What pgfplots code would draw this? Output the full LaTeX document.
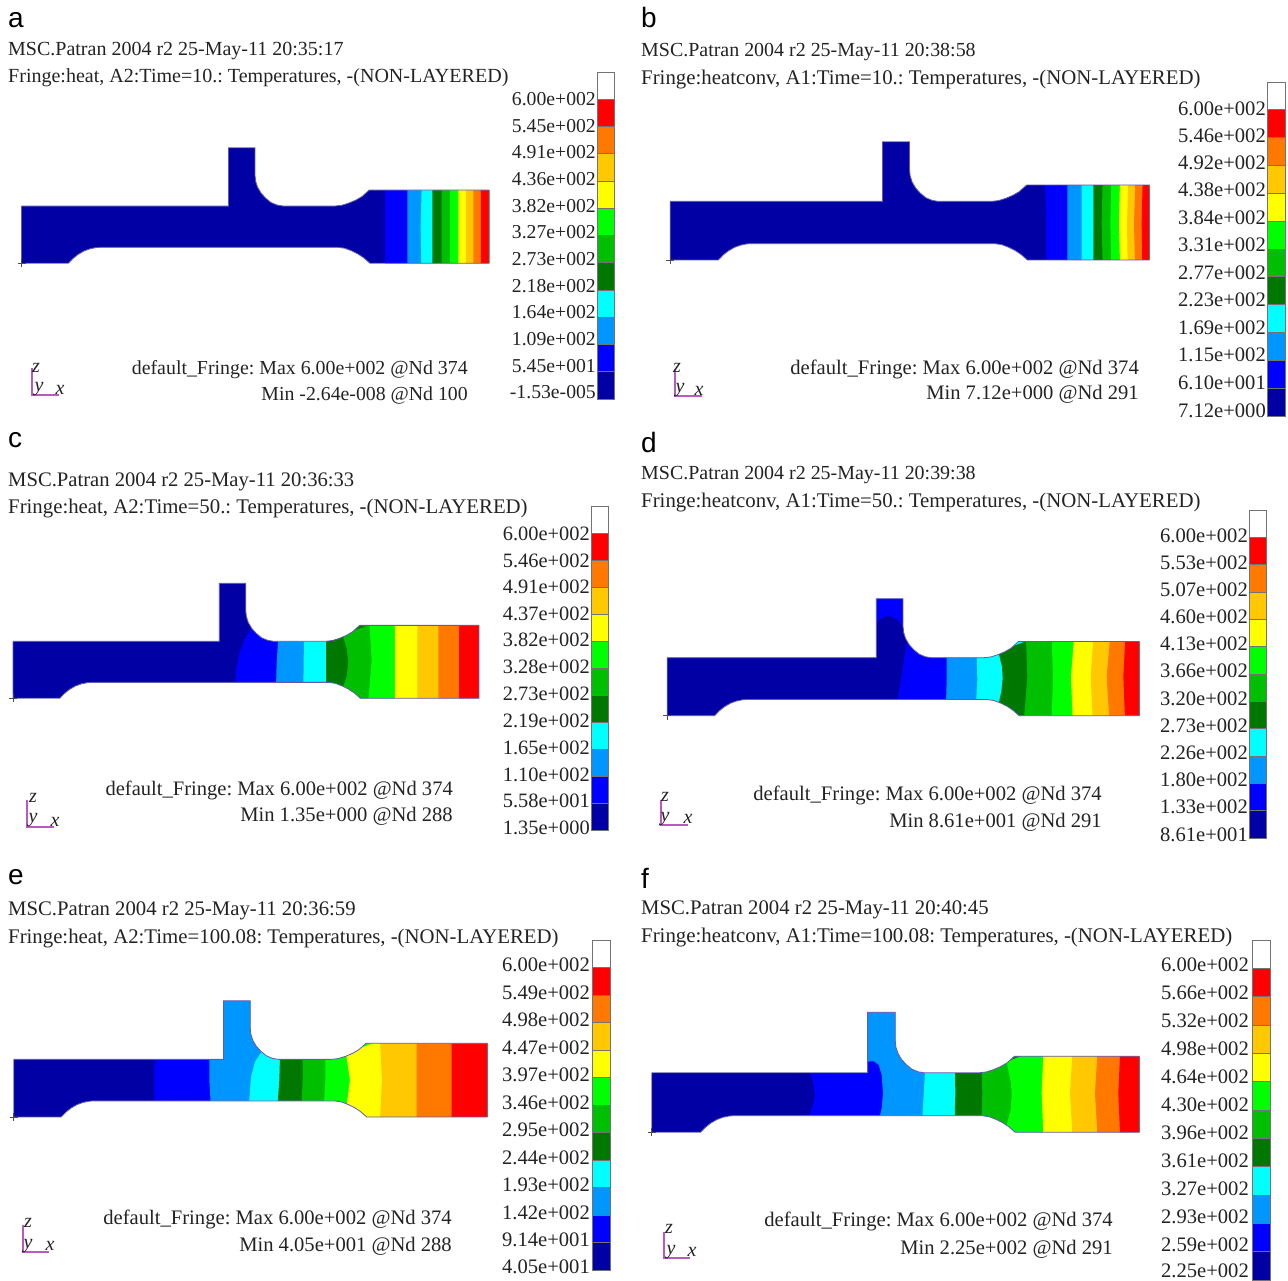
\documentclass[border=0pt]{standalone}
\usepackage{fontspec}
\setmainfont{Liberation Serif}
\newfontfamily\lsans{Liberation Sans}
\usepackage{pgfplots}
\pgfplotsset{compat=1.18}
\definecolor{cDB}{RGB}{0,0,165}
\definecolor{cB}{RGB}{0,0,255}
\definecolor{cLB}{RGB}{0,150,255}
\definecolor{cC}{RGB}{0,255,255}
\definecolor{cDG}{RGB}{0,120,0}
\definecolor{cMG}{RGB}{0,190,0}
\definecolor{cG}{RGB}{0,255,0}
\definecolor{cY}{RGB}{255,255,0}
\definecolor{cYO}{RGB}{255,200,0}
\definecolor{cO}{RGB}{255,120,0}
\definecolor{cR}{RGB}{255,0,0}
\definecolor{tx}{RGB}{35,35,35}
\definecolor{edgec}{RGB}{95,90,175}
\definecolor{triadc}{RGB}{185,90,195}
\pgfplotsset{
  zf/.style n args={2}{x filter/.expression={#1+x/3},y filter/.expression={#2+y/3}},
  sf/.style n args={4}{x filter/.expression={#1+(x-21.5)/467.5*(#2-#1)},y filter/.expression={#4+(y-263.3)/115.6*(#4-#3)}},
  cb/.style n args={4}{x filter/.expression={#1+x*(#2-#1)},y filter/.expression={#3+y*(#4-#3)/12}},
  tf/.style n args={2}{x filter/.expression={#1+x},y filter/.expression={#2+y}},
}
% outside of the part, in the part's own units, then its outline
\newcommand\shape[4]{%
 \addplot[fill=white,draw=none,sf={#1}{#2}{#3}{#4}] coordinates {(17.5,142)(493,142)(493,190)(369.3,190)(362,196.5)(356,200)(349,203)(342,205.2)(335,206)(283,206)(277,205)(271,202.5)(265.5,198)(261,193)(257.5,187)(255.6,181)(255,175)(255,147.7)(228.5,147.7)(228.5,206)(17.5,206)};
 \addplot[fill=white,draw=none,sf={#1}{#2}{#3}{#4}] coordinates {(17.5,269)(17.5,263.3)(68.3,263.3)(73,258.5)(78,254.5)(84,251)(90,248.8)(96,247.6)(100,247.3)(338,247.3)(345,248.3)(352,251)(358,254)(364,258)(370,263.3)(493,263.3)(493,269)};
 \addplot[draw=edgec,line width=0.8pt,sf={#1}{#2}{#3}{#4}] coordinates {(21.5,206)(228.5,206)(228.5,147.7)(255,147.7)(255,175)(255.6,181)(257.5,187)(261,193)(265.5,198)(271,202.5)(277,205)(283,206)(335,206)(342,205.2)(349,203)(356,200)(362,196.5)(369.3,190)(489,190)(489,263.3)(370,263.3)(364,258)(358,254)(352,251)(345,248.3)(338,247.3)(100,247.3)(96,247.6)(90,248.8)(84,251)(78,254.5)(73,258.5)(68.3,263.3)(21.5,263.3)(21.5,206)};
 \addplot[only marks,mark=+,mark size=4pt,mark options={draw=black!70,line width=0.6pt}] coordinates {(#1,#4)};
}
\newcommand\cbar[4]{%
 \addplot[fill=white,draw=black!55,line width=0.8pt,cb={#1}{#2}{#3}{#4}] coordinates {(0,0)(1,0)(1,1)(0,1)(0,0)};
 \addplot[fill=cR,draw=black!55,line width=0.8pt,cb={#1}{#2}{#3}{#4}] coordinates {(0,1)(1,1)(1,2)(0,2)(0,1)};
 \addplot[fill=cO,draw=black!55,line width=0.8pt,cb={#1}{#2}{#3}{#4}] coordinates {(0,2)(1,2)(1,3)(0,3)(0,2)};
 \addplot[fill=cYO,draw=black!55,line width=0.8pt,cb={#1}{#2}{#3}{#4}] coordinates {(0,3)(1,3)(1,4)(0,4)(0,3)};
 \addplot[fill=cY,draw=black!55,line width=0.8pt,cb={#1}{#2}{#3}{#4}] coordinates {(0,4)(1,4)(1,5)(0,5)(0,4)};
 \addplot[fill=cG,draw=black!55,line width=0.8pt,cb={#1}{#2}{#3}{#4}] coordinates {(0,5)(1,5)(1,6)(0,6)(0,5)};
 \addplot[fill=cMG,draw=black!55,line width=0.8pt,cb={#1}{#2}{#3}{#4}] coordinates {(0,6)(1,6)(1,7)(0,7)(0,6)};
 \addplot[fill=cDG,draw=black!55,line width=0.8pt,cb={#1}{#2}{#3}{#4}] coordinates {(0,7)(1,7)(1,8)(0,8)(0,7)};
 \addplot[fill=cC,draw=black!55,line width=0.8pt,cb={#1}{#2}{#3}{#4}] coordinates {(0,8)(1,8)(1,9)(0,9)(0,8)};
 \addplot[fill=cLB,draw=black!55,line width=0.8pt,cb={#1}{#2}{#3}{#4}] coordinates {(0,9)(1,9)(1,10)(0,10)(0,9)};
 \addplot[fill=cB,draw=black!55,line width=0.8pt,cb={#1}{#2}{#3}{#4}] coordinates {(0,10)(1,10)(1,11)(0,11)(0,10)};
 \addplot[fill=cDB,draw=black!55,line width=0.8pt,cb={#1}{#2}{#3}{#4}] coordinates {(0,11)(1,11)(1,12)(0,12)(0,11)};
}
\newcommand\tr[4]{\addplot[draw=triadc,line width=1.1pt,tf={#1}{#2}] coordinates {(0,-#3)(0,0)(#4,0)};}
\newcommand\fs[1]{\fontsize{#1pt}{#1pt}\selectfont\frenchspacing}
\newcommand\te[4]{\node[anchor=base east,inner sep=0pt,yshift=-0.5pt,text=tx,font=\fs{#1}] at (axis cs:#2,#3) {#4};}
\newcommand\tw[4]{\node[anchor=base west,inner sep=0pt,yshift=-0.5pt,text=tx,font=\fs{#1}] at (axis cs:#2,#3) {#4};}
\newcommand\ti[3]{\node[anchor=base,inner sep=0pt,text=tx,font=\fs{20}\itshape] at (axis cs:#1,#2) {#3};}
\newcommand\pl[3]{\node[anchor=base west,inner sep=0pt,text=black,font=\lsans\fs{28}] at (axis cs:#1,#2) {#3};}
% bands: each is filled from its left boundary to the right end of the part
\newcommand\bA[2]{\addplot[fill=#1,draw=none,zf={0}{130}] coordinates {#2 (1467,400)(1467,53)};}
\newcommand\bB[2]{\addplot[fill=#1,draw=none,zf={650}{130}] coordinates {#2 (1498,390)(1498,35)};}
\newcommand\bC[2]{\addplot[fill=#1,draw=none,zf={0}{570}] coordinates {#2 (1437,385)(1437,40)};}
\newcommand\bD[2]{\addplot[fill=#1,draw=none,zf={650}{590}] coordinates {#2 (1468,377)(1468,26)};}
\newcommand\bE[2]{\addplot[fill=#1,draw=none,zf={0}{990}] coordinates {#2 (1462,381)(1462,32)};}
\newcommand\bF[2]{\addplot[fill=#1,draw=none,zf={640}{1000}] coordinates {#2 (1498,397)(1498,37)};}
\begin{document}
\begin{tikzpicture}
\useasboundingbox (0,0) rectangle (1288pt,1280pt);
\begin{axis}[at={(0,0)},anchor=south west,scale only axis,width=1288pt,height=1280pt,
  xmin=0,xmax=1288,ymin=0,ymax=1280,y dir=reverse,axis lines=none,ticks=none]
%---- a
\bA{cDB}{(64,53)(64,400)}
\bA{cB}{(1155,170)(1155,410)}
\bA{cLB}{(1222,170)(1222,410)}
\bA{cC}{(1265,170)(1262,290)(1264,410)}
\bA{cDG}{(1297,170)(1297,410)}
\bA{cMG}{(1325,170)(1325,410)}
\bA{cG}{(1350,170)(1350,410)}
\bA{cY}{(1375,170)(1375,410)}
\bA{cYO}{(1398,170)(1398,410)}
\bA{cO}{(1420,170)(1420,410)}
\bA{cR}{(1443,170)(1443,410)}
\shape{21.5}{489}{147.7}{263.3}
%---- b
\bB{cDB}{(61,35)(61,390)}
\bB{cB}{(1185,150)(1188,280)(1188,400)}
\bB{cLB}{(1252,150)(1252,400)}
\bB{cC}{(1295,150)(1295,400)}
\bB{cDG}{(1330,150)(1330,400)}
\bB{cMG}{(1358,150)(1355,280)(1358,400)}
\bB{cG}{(1384,150)(1381,280)(1384,400)}
\bB{cY}{(1410,150)(1407,280)(1410,400)}
\bB{cYO}{(1435,150)(1431,280)(1433,400)}
\bB{cO}{(1456,150)(1452,280)(1455,400)}
\bB{cR}{(1478,150)(1475,280)(1477,400)}
\shape{670.3}{1149.3}{141.7}{260}
%---- c
\bC{cDB}{(39,40)(39,385)}
\bC{cB}{(760,165)(735,205)(718,250)(708,300)(705,350)(705,395)}
\bC{cLB}{(835,195)(830,280)(828,350)(828,395)}
\bC{cC}{(912,195)(910,350)(910,395)}
\bC{cDG}{(978,195)(978,395)}
\bC{cMG}{(1028,195)(1040,235)(1045,275)(1040,320)(1028,355)(1028,395)}
\bC{cG}{(1108,155)(1115,270)(1105,395)}
\bC{cY}{(1185,155)(1185,395)}
\bC{cYO}{(1252,155)(1252,395)}
\bC{cO}{(1315,155)(1315,395)}
\bC{cR}{(1377,155)(1377,395)}
\shape{13}{479}{583.3}{698.3}
%---- d
\bD{cDB}{(52,26)(52,377)}
\bD{cB}{(770,160)(760,220)(750,290)(740,340)(740,385)}
\addplot[fill=cB,draw=none,zf={650}{590}] coordinates {(680,20)(765,20)(765,132)(755,105)(742,88)(722,78)(705,80)(690,88)(680,100)};
\bD{cLB}{(890,195)(890,270)(888,340)(888,385)}
\bD{cC}{(980,195)(982,270)(978,340)(978,385)}
\bD{cDG}{(1045,185)(1056,230)(1058,265)(1054,305)(1045,345)(1045,385)}
\bD{cMG}{(1128,145)(1132,260)(1122,385)}
\bD{cG}{(1205,145)(1209,260)(1205,385)}
\bD{cY}{(1272,145)(1263,260)(1268,385)}
\bD{cYO}{(1330,145)(1322,260)(1328,385)}
\bD{cO}{(1380,145)(1370,260)(1378,385)}
\bD{cR}{(1426,145)(1420,260)(1425,385)}
\shape{667.3}{1139.3}{598.7}{715.7}
%---- e
\bE{cDB}{(41,32)(41,381)}
\bE{cB}{(463,195)(463,390)}
\bE{cLB}{(628,32)(628,270)(632,340)(632,390)}
\bE{cC}{(785,185)(765,215)(753,260)(747,340)(747,390)}
\bE{cDG}{(840,200)(838,270)(833,340)(833,390)}
\bE{cMG}{(908,200)(908,270)(905,340)(905,390)}
\bE{cG}{(976,200)(976,270)(972,340)(972,390)}
\bE{cY}{(1038,190)(1050,270)(1040,345)(1040,390)}
\bE{cYO}{(1140,150)(1146,270)(1140,390)}
\bE{cO}{(1250,150)(1250,390)}
\bE{cR}{(1355,150)(1355,390)}
\shape{13.7}{487.3}{1000.7}{1117}
%---- f
\bF{cDB}{(35,37)(35,397)}
\bF{cB}{(508,210)(520,250)(525,285)(518,320)(503,355)(503,405)}
\bF{cLB}{(684,37)(684,185)(700,183)(716,194)(725,225)(729,280)(725,325)(718,355)(718,405)}
\bF{cC}{(855,215)(850,300)(847,355)(847,405)}
\bF{cDG}{(945,215)(946,280)(944,355)(944,405)}
\bF{cMG}{(1025,215)(1027,280)(1025,355)(1025,405)}
\bF{cG}{(1100,185)(1113,250)(1115,285)(1112,330)(1100,375)(1100,405)}
\bF{cY}{(1210,165)(1205,280)(1210,400)}
\bF{cYO}{(1297,165)(1290,280)(1297,400)}
\bF{cO}{(1372,165)(1365,280)(1372,400)}
\bF{cR}{(1440,165)(1435,280)(1440,400)}
\shape{651.7}{1139.3}{1012.3}{1132.3}
%---- colour bars
\cbar{597}{614}{72}{399}
\cbar{1267}{1285}{82}{416}
\cbar{591}{608}{506}{830}
\cbar{1249}{1266}{510}{838}
\cbar{592}{610}{940}{1270}
\cbar{1252}{1270}{940}{1280}
%---- triads
\tr{32}{395}{27}{27}
\tr{675}{396}{26}{27}
\tr{27}{827}{27}{27}
\tr{661}{825}{25}{27}
\tr{23}{1252}{27}{26}
\tr{664}{1258}{26}{26}
\ti{36}{372}{z}\ti{39}{391}{y}\ti{60}{394}{x}
\ti{677}{372}{z}\ti{680}{392}{y}\ti{699}{395}{x}
\ti{33}{802}{z}\ti{33}{822}{y}\ti{55}{826}{x}
\ti{665}{801}{z}\ti{665}{821}{y}\ti{688}{823}{x}
\ti{28}{1227}{z}\ti{28}{1248}{y}\ti{50}{1250}{x}
\ti{669}{1233}{z}\ti{671}{1254}{y}\ti{692}{1256}{x}
%---- panel letters
\pl{8}{27}{a}\pl{641}{27}{b}\pl{8}{447}{c}\pl{641}{452}{d}\pl{8}{884}{e}\pl{641}{888}{f}
%---- headers
\tw{20.0}{8}{55}{MSC.Patran 2004 r2 25-May-11 20:35:17}
\tw{20.03}{8}{82}{Fringe:heat, A2:Time=10.: Temperatures, -(NON-LAYERED)}
\tw{19.95}{641}{56}{MSC.Patran 2004 r2 25-May-11 20:38:58}
\tw{20.83}{641}{84}{Fringe:heatconv, A1:Time=10.: Temperatures, -(NON-LAYERED)}
\tw{20.64}{8}{486}{MSC.Patran 2004 r2 25-May-11 20:36:33}
\tw{20.8}{8}{513}{Fringe:heat, A2:Time=50.: Temperatures, -(NON-LAYERED)}
\tw{19.95}{641}{479}{MSC.Patran 2004 r2 25-May-11 20:39:38}
\tw{20.83}{641}{507}{Fringe:heatconv, A1:Time=50.: Temperatures, -(NON-LAYERED)}
\tw{20.72}{8}{915}{MSC.Patran 2004 r2 25-May-11 20:36:59}
\tw{20.79}{8}{943}{Fringe:heat, A2:Time=100.08: Temperatures, -(NON-LAYERED)}
\tw{20.72}{641}{914}{MSC.Patran 2004 r2 25-May-11 20:40:45}
\tw{20.85}{641}{942}{Fringe:heatconv, A1:Time=100.08: Temperatures, -(NON-LAYERED)}
%---- fringe notes
\te{19.88}{468}{374}{default\_Fringe: Max 6.00e+002 @Nd 374}
\te{19.8}{468}{400}{Min -2.64e-008 @Nd 100}
\te{20.62}{1139}{374}{default\_Fringe: Max 6.00e+002 @Nd 374}
\te{20.6}{1139}{399}{Min 7.12e+000 @Nd 291}
\te{20.55}{453}{795}{default\_Fringe: Max 6.00e+002 @Nd 374}
\te{20.6}{453}{821}{Min 1.35e+000 @Nd 288}
\te{20.62}{1102}{800}{default\_Fringe: Max 6.00e+002 @Nd 374}
\te{20.6}{1102}{827}{Min 8.61e+001 @Nd 291}
\te{20.62}{452}{1224}{default\_Fringe: Max 6.00e+002 @Nd 374}
\te{20.6}{452}{1251}{Min 4.05e+001 @Nd 288}
\te{20.62}{1113}{1226}{default\_Fringe: Max 6.00e+002 @Nd 374}
\te{20.6}{1113}{1254}{Min 2.25e+002 @Nd 291}
%---- a scale
\te{19.7}{596}{105}{6.00e+002}\te{19.7}{596}{132}{5.45e+002}\te{19.7}{596}{158}{4.91e+002}\te{19.7}{596}{185}{4.36e+002}
\te{19.7}{596}{212}{3.82e+002}\te{19.7}{596}{238}{3.27e+002}\te{19.7}{596}{265}{2.73e+002}\te{19.7}{596}{292}{2.18e+002}
\te{19.7}{596}{318}{1.64e+002}\te{19.7}{596}{345}{1.09e+002}\te{19.7}{596}{372}{5.45e+001}\te{19.7}{596}{398}{-1.53e-005}
%---- b scale
\te{20.6}{1266}{115}{6.00e+002}\te{20.6}{1266}{142}{5.46e+002}\te{20.6}{1266}{169}{4.92e+002}\te{20.6}{1266}{196}{4.38e+002}
\te{20.6}{1266}{224}{3.84e+002}\te{20.6}{1266}{251}{3.31e+002}\te{20.6}{1266}{279}{2.77e+002}\te{20.6}{1266}{306}{2.23e+002}
\te{20.6}{1266}{334}{1.69e+002}\te{20.6}{1266}{361}{1.15e+002}\te{20.6}{1266}{389}{6.10e+001}\te{20.6}{1266}{417}{7.12e+000}
%---- c scale
\te{20.4}{590}{540}{6.00e+002}\te{20.4}{590}{567}{5.46e+002}\te{20.4}{590}{593}{4.91e+002}\te{20.4}{590}{620}{4.37e+002}
\te{20.4}{590}{646}{3.82e+002}\te{20.4}{590}{673}{3.28e+002}\te{20.4}{590}{700}{2.73e+002}\te{20.4}{590}{727}{2.19e+002}
\te{20.4}{590}{754}{1.65e+002}\te{20.4}{590}{781}{1.10e+002}\te{20.4}{590}{807}{5.58e+001}\te{20.4}{590}{834}{1.35e+000}
%---- d scale
\te{20.6}{1248}{542}{6.00e+002}\te{20.6}{1248}{569}{5.53e+002}\te{20.6}{1248}{596}{5.07e+002}\te{20.6}{1248}{623}{4.60e+002}
\te{20.6}{1248}{650}{4.13e+002}\te{20.6}{1248}{677}{3.66e+002}\te{20.6}{1248}{705}{3.20e+002}\te{20.6}{1248}{732}{2.73e+002}
\te{20.6}{1248}{759}{2.26e+002}\te{20.6}{1248}{786}{1.80e+002}\te{20.6}{1248}{813}{1.33e+002}\te{20.6}{1248}{841}{8.61e+001}
%---- e scale
\te{20.6}{590}{971}{6.00e+002}\te{20.6}{590}{999}{5.49e+002}\te{20.6}{590}{1026}{4.98e+002}\te{20.6}{590}{1054}{4.47e+002}
\te{20.6}{590}{1081}{3.97e+002}\te{20.6}{590}{1109}{3.46e+002}\te{20.6}{590}{1136}{2.95e+002}\te{20.6}{590}{1164}{2.44e+002}
\te{20.6}{590}{1191}{1.93e+002}\te{20.6}{590}{1219}{1.42e+002}\te{20.6}{590}{1246}{9.14e+001}\te{20.6}{590}{1273}{4.05e+001}
%---- f scale
\te{20.6}{1249}{971}{6.00e+002}\te{20.6}{1249}{999}{5.66e+002}\te{20.6}{1249}{1027}{5.32e+002}\te{20.6}{1249}{1055}{4.98e+002}
\te{20.6}{1249}{1083}{4.64e+002}\te{20.6}{1249}{1111}{4.30e+002}\te{20.6}{1249}{1139}{3.96e+002}\te{20.6}{1249}{1167}{3.61e+002}
\te{20.6}{1249}{1195}{3.27e+002}\te{20.6}{1249}{1223}{2.93e+002}\te{20.6}{1249}{1251}{2.59e+002}\te{20.6}{1249}{1277}{2.25e+002}
\end{axis}
\end{tikzpicture}
\end{document}
